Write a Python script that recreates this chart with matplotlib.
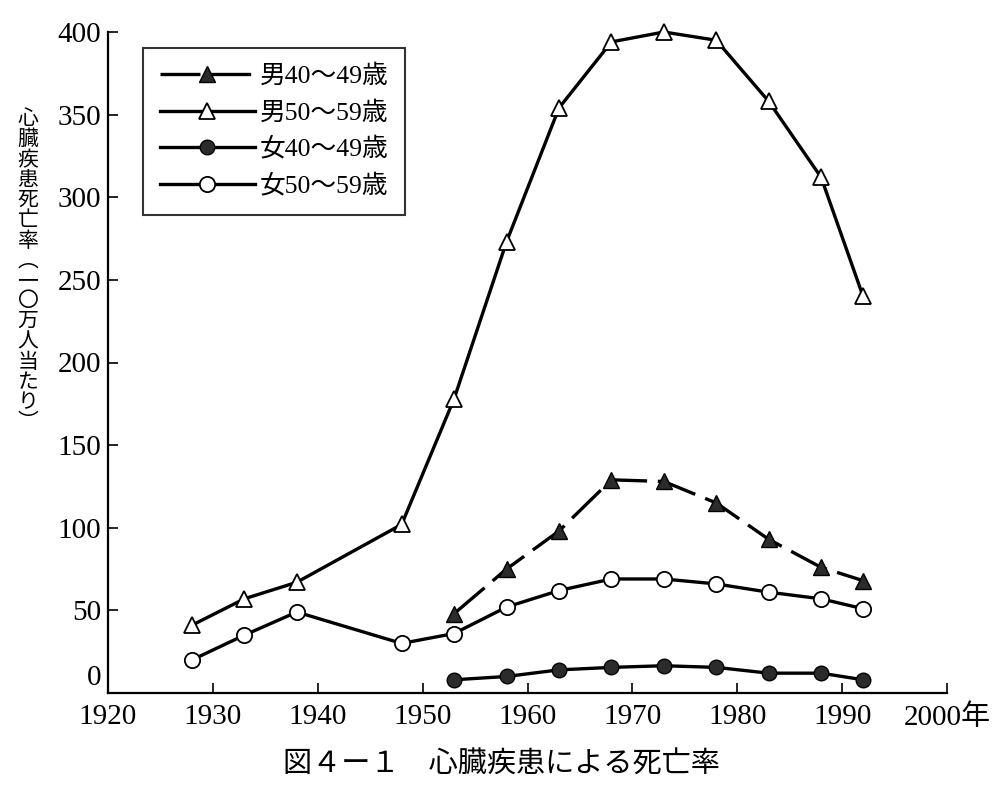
import matplotlib
matplotlib.use("Agg")
import matplotlib.pyplot as plt

plt.rcParams['font.family'] = ['Liberation Serif', 'Noto Sans CJK JP']

# ---- data ----
years_long = [1928, 1933, 1938, 1948, 1953, 1958, 1963, 1968, 1973, 1978, 1983, 1988, 1992]
years_short = [1953, 1958, 1963, 1968, 1973, 1978, 1983, 1988, 1992]
male_40_49 = [48, 75, 98, 129, 128, 115, 93, 76, 68]
male_50_59 = [41, 57, 67, 102, 178, 273, 354, 394, 400, 395, 358, 312, 240]
female_40_49 = [8, 10, 14, 15.5, 16.5, 15.5, 12, 12, 8]
female_50_59 = [20, 35, 49, 30, 36, 52, 62, 69, 69, 66, 61, 57, 51]
series_labels = ['男40～49歳', '男50～59歳', '女40～49歳', '女50～59歳']
xticks = [1920, 1930, 1940, 1950, 1960, 1970, 1980, 1990, 2000]
xtick_labels = ['1920', '1930', '1940', '1950', '1960', '1970', '1980', '1990', '2000年']
yticks = [50, 100, 150, 200, 250, 300, 350, 400]
ylabel = '心臓疾患死亡率︵一〇万人当たり︶'
caption = '図４ー１　心臓疾患による死亡率'

fig = plt.figure(figsize=(10.02, 7.90), dpi=100)
ax = fig.add_axes([108/1002, 1-693/790, (947-108)/1002, (693-32)/790])

lw = 2.4
fillc = '#2b2b2b'
ax.plot(years_short, male_40_49, color='black', lw=lw, dashes=(12, 3.2),
        marker='^', ms=12, mfc=fillc, mec='black', mew=1.0, clip_on=False,
        label=series_labels[0], zorder=3)
ax.plot(years_long, male_50_59, color='black', lw=lw,
        marker='^', ms=12, mfc='white', mec='black', mew=1.3, clip_on=False,
        label=series_labels[1], zorder=3)
ax.plot(years_short, female_40_49, color='black', lw=lw,
        marker='o', ms=10.5, mfc=fillc, mec='black', mew=1.0, clip_on=False,
        label=series_labels[2], zorder=3)
ax.plot(years_long, female_50_59, color='black', lw=lw,
        marker='o', ms=11, mfc='white', mec='black', mew=1.3, clip_on=False,
        label=series_labels[3], zorder=3)

ax.set_xlim(1920, 2000)
ax.set_ylim(0, 400)
ax.set_xticks(xticks)
ax.set_xticklabels(xtick_labels)
ax.set_yticks(yticks)
ax.set_yticklabels([str(v) for v in yticks])
ax.tick_params(axis='both', direction='in', length=7, width=1.2, labelsize=21, pad=5, colors='black')
ax.tick_params(axis='x', pad=8)
for s in ['top', 'right']:
    ax.spines[s].set_visible(False)
for s in ['left', 'bottom']:
    ax.spines[s].set_linewidth(1.6)
    ax.spines[s].set_color('black')

# the zero label sits slightly above the axis line
ax.annotate('0', xy=(0, 0), xycoords=('axes fraction', 'data'),
            xytext=(-7, 15), textcoords='offset pixels',
            ha='right', va='center', fontsize=21)

leg = ax.legend(loc='upper left', bbox_to_anchor=((143-108)/839, (693-48)/661),
                borderaxespad=0, frameon=True, fancybox=False, fontsize=18.5,
                handlelength=3.7, handletextpad=0.2, labelspacing=0.5,
                borderpad=0.65)
leg.get_frame().set_edgecolor('black')
leg.get_frame().set_linewidth(1.5)

fig.text(28/1002, 1-272/790, '\n'.join(ylabel), ha='center', va='center',
         fontsize=15, linespacing=1.08)

fig.text(501/1002, 1-765/790, caption, ha='center', va='center', fontsize=21)

fig.savefig('out.png', dpi=100)
